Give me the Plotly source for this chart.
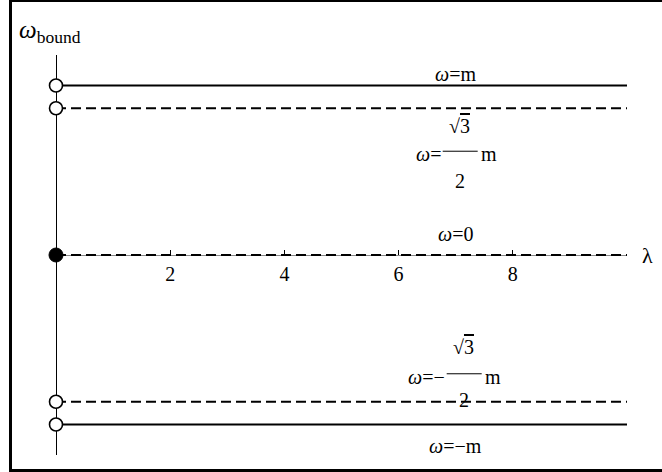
import plotly.graph_objects as go
import math

# ---- data ----
lambda_range = [0, 10]
omega_values = [1.0, math.sqrt(3) / 2, 0.0, -math.sqrt(3) / 2, -1.0]
line_dash = ["solid", "10px,5px", "10px,5px", "10px,5px", "solid"]
point_filled = [False, False, True, False, False]
x_ticks = [2, 4, 6, 8]
x_tick_labels = ["2", "4", "6", "8"]
label_x = 7

W, H = 662, 472
L, R, T, B = 56, 35, 55, 17
PW, PH = W - L - R, H - T - B
FONT = "Liberation Serif"
FS = 20

fig = go.Figure()

for v, d in zip(omega_values, line_dash):
    fig.add_trace(go.Scatter(x=lambda_range, y=[v, v], mode="lines",
                             line=dict(color="black", width=2, dash=d),
                             hoverinfo="skip", showlegend=False))

open_y = [v for v, f in zip(omega_values, point_filled) if not f]
filled_y = [v for v, f in zip(omega_values, point_filled) if f]
fig.add_trace(go.Scatter(
    x=[0] * len(open_y), y=open_y, mode="markers",
    marker=dict(size=13, color="#ffffff", line=dict(color="#000000", width=1.6)),
    hoverinfo="skip", showlegend=False, cliponaxis=False))
fig.add_trace(go.Scatter(
    x=[0] * len(filled_y), y=filled_y, mode="markers",
    marker=dict(size=14, color="#000000", line=dict(color="#000000", width=1)),
    hoverinfo="skip", showlegend=False, cliponaxis=False))

def ann(x, y, text, xs=0, ys=0, size=FS, **kw):
    fig.add_annotation(x=x, y=y, text=text, showarrow=False, xshift=xs, yshift=ys,
                       font=dict(family=FONT, size=size, color="black"), **kw)

# simple labels
ann(label_x, omega_values[0], "<i>ω</i>=m", 0, 12)
ann(label_x, omega_values[2], "<i>ω</i>=0", 0, 21)
ann(label_x, omega_values[4], "<i>ω</i>=−m", 0, -22)

# fraction labels
def frac_label(v, dy, sign, dx, dnum, dden):
    # dy: pixel offset (positive = up) of the fraction bar from the line
    ann(label_x, v, "<i>ω</i>=" + sign, dx - 13, dy - 3, xanchor="right")
    ann(label_x, v, "√<span style='text-decoration:overline'>3</span>", dx + 4, dy + dnum)
    ann(label_x, v, "2", dx + 4, dy - dden)
    ann(label_x, v, "m", dx + 23, dy - 3, xanchor="left")
    fig.add_shape(type="line", xref="x", yref="y", xsizemode="pixel", ysizemode="pixel",
                  xanchor=label_x, yanchor=v, x0=dx - 13, x1=dx + 22, y0=dy, y1=dy,
                  line=dict(color="black", width=1))

frac_label(omega_values[1], -43, "", 0, 25, 30)
frac_label(omega_values[3], 28, "−", 4, 27, 26)

# axis labels
ann(lambda_range[1], 0, "λ", 20, 0, size=22)
fig.add_annotation(x=(17 - L) / PW, y=(T + PH - 14) / PH, xref="paper", yref="paper",
                   text="<i>ω</i><sub>bound</sub>", showarrow=False, xanchor="left",
                   font=dict(family=FONT, size=25, color="black"))

# frame
fig.add_shape(type="rect", xref="paper", yref="paper",
              x0=(10.5 - L) / PW, x1=(672 - L) / PW,
              y0=(T + PH - 470.5) / PH, y1=(T + PH - 0.5) / PH,
              line=dict(color="black", width=3))

fig.update_layout(
    width=W, height=H, margin=dict(l=L, r=R, t=T, b=B),
    paper_bgcolor="white", plot_bgcolor="white",
    font=dict(family=FONT, size=FS, color="black"),
    xaxis=dict(range=lambda_range, showgrid=False, zeroline=True, zerolinecolor="black",
               zerolinewidth=1, showline=False, anchor="free", position=0.5,
               tickvals=x_ticks, ticktext=x_tick_labels, ticks="inside", ticklen=5,
               tickcolor="black", tickwidth=1, ticklabelstandoff=5,
               tickfont=dict(family=FONT, size=FS, color="black")),
    yaxis=dict(range=[-1.18, 1.18], showgrid=False, zeroline=True, zerolinecolor="#888",
               zerolinewidth=1, showticklabels=False, ticks="", showline=False),
)

fig.write_html("out.html", config={"displayModeBar": False},
               post_script="document.body.style.margin='0';")
